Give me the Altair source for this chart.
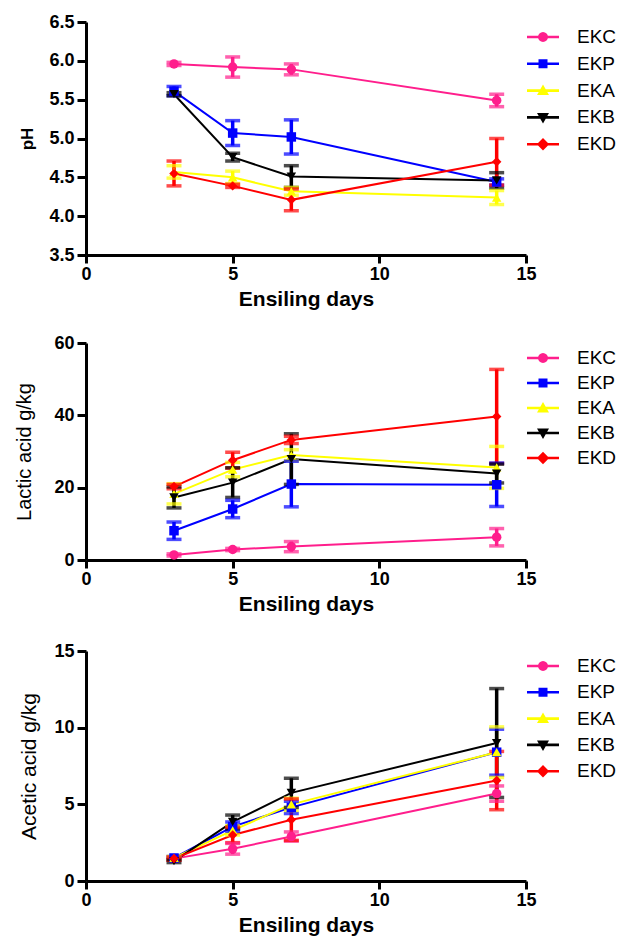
import altair as alt
import pandas as pd

days = [3, 5, 7, 14]
series = ["EKC", "EKP", "EKA", "EKB", "EKD"]
colors = ["#FF1E8C", "#0000FF", "#FFFF00", "#000000", "#FF0000"]
shapes = ["circle", "square", "triangle-up", "triangle-down", "diamond"]

# pH (mean, error)
ph_EKC = [5.96, 5.92, 5.89, 5.49]
ph_EKP = [5.61, 5.07, 5.02, 4.44]
ph_EKA = [4.57, 4.50, 4.32, 4.24]
ph_EKB = [5.57, 4.76, 4.51, 4.46]
ph_EKD = [4.55, 4.39, 4.21, 4.70]
ph_err_EKC = [0.02, 0.13, 0.07, 0.08]
ph_err_EKP = [0.06, 0.16, 0.22, 0.04]
ph_err_EKA = [0.08, 0.08, 0.05, 0.09]
ph_err_EKB = [0.02, 0.05, 0.14, 0.10]
ph_err_EKD = [0.16, 0.02, 0.14, 0.30]

# Lactic acid g/kg
la_EKC = [1.4, 2.9, 3.7, 6.3]
la_EKP = [8.1, 14.1, 21.0, 20.8]
la_EKA = [18.3, 25.0, 29.0, 25.6]
la_EKB = [17.3, 21.4, 27.9, 23.9]
la_EKD = [20.3, 27.6, 33.2, 39.7]
la_err_EKC = [0.3, 0.3, 1.4, 2.4]
la_err_EKP = [2.4, 2.4, 6.3, 6.0]
la_err_EKA = [2.8, 2.0, 1.5, 5.8]
la_err_EKB = [2.9, 4.1, 7.0, 2.6]
la_err_EKD = [0.6, 2.2, 1.0, 13.0]

# Acetic acid g/kg
aa_EKC = [1.46, 2.1, 2.9, 5.7]
aa_EKP = [1.5, 3.55, 4.8, 8.4]
aa_EKA = [1.5, 3.3, 5.0, 8.4]
aa_EKB = [1.3, 3.85, 5.75, 9.0]
aa_EKD = [1.46, 3.0, 4.0, 6.55]
aa_err_EKC = [0.1, 0.35, 0.3, 0.5]
aa_err_EKP = [0.1, 0.3, 0.4, 1.5]
aa_err_EKA = [0.1, 0.3, 0.4, 1.65]
aa_err_EKB = [0.1, 0.45, 0.95, 3.55]
aa_err_EKD = [0.1, 0.5, 1.35, 1.9]

FONT = "Liberation Sans"


def make_df(means, errs):
    rows = []
    for s, m_list, e_list in zip(series, means, errs):
        for d, m, e in zip(days, m_list, e_list):
            rows.append({"series": s, "day": d, "mean": m, "lo": m - e, "hi": m + e})
    return pd.DataFrame(rows)


df_ph = make_df([ph_EKC, ph_EKP, ph_EKA, ph_EKB, ph_EKD],
                [ph_err_EKC, ph_err_EKP, ph_err_EKA, ph_err_EKB, ph_err_EKD])
df_la = make_df([la_EKC, la_EKP, la_EKA, la_EKB, la_EKD],
                [la_err_EKC, la_err_EKP, la_err_EKA, la_err_EKB, la_err_EKD])
df_aa = make_df([aa_EKC, aa_EKP, aa_EKA, aa_EKB, aa_EKD],
                [aa_err_EKC, aa_err_EKP, aa_err_EKA, aa_err_EKB, aa_err_EKD])

# legend symbols: a line with the marker on it (unit = half symbol size), polygons only
LINE = "M-1.6,-0.13L1.6,-0.13L1.6,0.13L-1.6,0.13Z"
CIRCLE = ("M0.5,0L0.462,0.191L0.354,0.354L0.191,0.462L0,0.5L-0.191,0.462L-0.354,0.354"
          "L-0.462,0.191L-0.5,0L-0.462,-0.191L-0.354,-0.354L-0.191,-0.462L0,-0.5"
          "L0.191,-0.462L0.354,-0.354L0.462,-0.191Z")
legend_paths = [
    LINE + CIRCLE,
    LINE + "M-0.45,-0.45L0.45,-0.45L0.45,0.45L-0.45,0.45Z",
    LINE + "M0,-0.6L0.6,0.45L-0.6,0.45Z",
    LINE + "M-0.6,-0.45L0.6,-0.45L0,0.6Z",
    LINE + "M0,-0.62L0.62,0L0,0.62L-0.62,0Z",
]


def panel(df, ytitle, ydomain, yticks, yfmt, height, tbold, tsize, tpad, rowpad):
    xaxis = alt.Axis(values=[0, 5, 10, 15], title="Ensiling days",
                     titleFontWeight="bold", titleFontSize=21,
                     titlePadding=5, labelPadding=2, tickSize=8,
                     labelOverlap=False, labelFlush=False)
    xscale = alt.Scale(domain=[0, 15], nice=False)
    yscale = alt.Scale(domain=ydomain, nice=False, zero=False)
    yaxis = alt.Axis(values=yticks, format=yfmt, title=ytitle,
                     titleFontWeight="bold" if tbold else "normal",
                     titleFontSize=tsize, titlePadding=tpad,
                     labelPadding=3, tickSize=9, labelOverlap=False, labelFlush=False)

    def X():
        return alt.X("day:Q", scale=xscale, axis=xaxis)

    def Y(f):
        return alt.Y(f"{f}:Q", scale=yscale, axis=yaxis)

    cscale = alt.Scale(domain=series, range=colors)
    col = alt.Color("series:N", scale=cscale, legend=None)
    base = alt.Chart(df)
    leg = dict(orient="none", legendX=447, legendY=5, title=None,
               labelFont=FONT, labelFontSize=19, labelColor="black",
               symbolSize=400, rowPadding=rowpad, labelOffset=24,
               padding=0, symbolStrokeWidth=0, symbolOpacity=1)
    # legend-carrying layer (tiny marks hidden under the real markers)
    layers = [base.mark_point(filled=True, size=4, strokeWidth=0).encode(
        x=X(), y=Y("mean"),
        color=alt.Color("series:N", scale=cscale, legend=alt.Legend(**leg)),
        shape=alt.Shape("series:N", scale=alt.Scale(domain=series, range=legend_paths),
                        legend=alt.Legend(**leg)),
    )]
    layers.append(base.mark_line(strokeWidth=2).encode(x=X(), y=Y("mean"), color=col))
    layers.append(base.mark_rule(strokeWidth=3.5).encode(
        x=X(), y=Y("lo"), y2="hi:Q", color=col))
    for fld in ["lo", "hi"]:
        layers.append(base.mark_tick(orient="horizontal", thickness=3.5, size=15).encode(
            x=X(), y=Y(fld), color=col))
    for s, shp in zip(series, shapes):
        layers.append(base.transform_filter(alt.datum.series == s).mark_point(
            filled=True, size=90, opacity=1, shape=shp).encode(
            x=X(), y=Y("mean"), color=col))
    return alt.layer(*layers).properties(width=440, height=height)


p1 = panel(df_ph, "pH", [3.5, 6.5], [3.5, 4.0, 4.5, 5.0, 5.5, 6.0, 6.5], ".1f", 233, True, 17, 12, 6.8)
p2 = panel(df_la, "Lactic acid g/kg", [0, 60], [0, 20, 40, 60], "d", 217, False, 20, 19, 5)
p3 = panel(df_aa, "Acetic acid g/kg", [0, 15], [0, 5, 10, 15], "d", 230, False, 21, 14, 6.3)

top = alt.vconcat(p1, p2, spacing=25).resolve_scale(
    color="independent", shape="independent").resolve_legend(color="independent", shape="independent")
chart = alt.vconcat(top, p3, spacing=28).resolve_scale(
    color="independent", shape="independent").resolve_legend(
    color="independent", shape="independent").properties(
    padding={"left": 14, "top": 13, "right": 5, "bottom": 5}, background="white"
).configure_view(stroke=None).configure_axis(
    grid=False, domainColor="black", domainWidth=3, tickColor="black", tickWidth=3,
    labelFont=FONT, labelFontWeight="bold", labelFontSize=18, labelColor="black",
    titleFont=FONT, titleColor="black",
)

chart.save("out.html", embed_options={"renderer": "svg", "actions": False})
